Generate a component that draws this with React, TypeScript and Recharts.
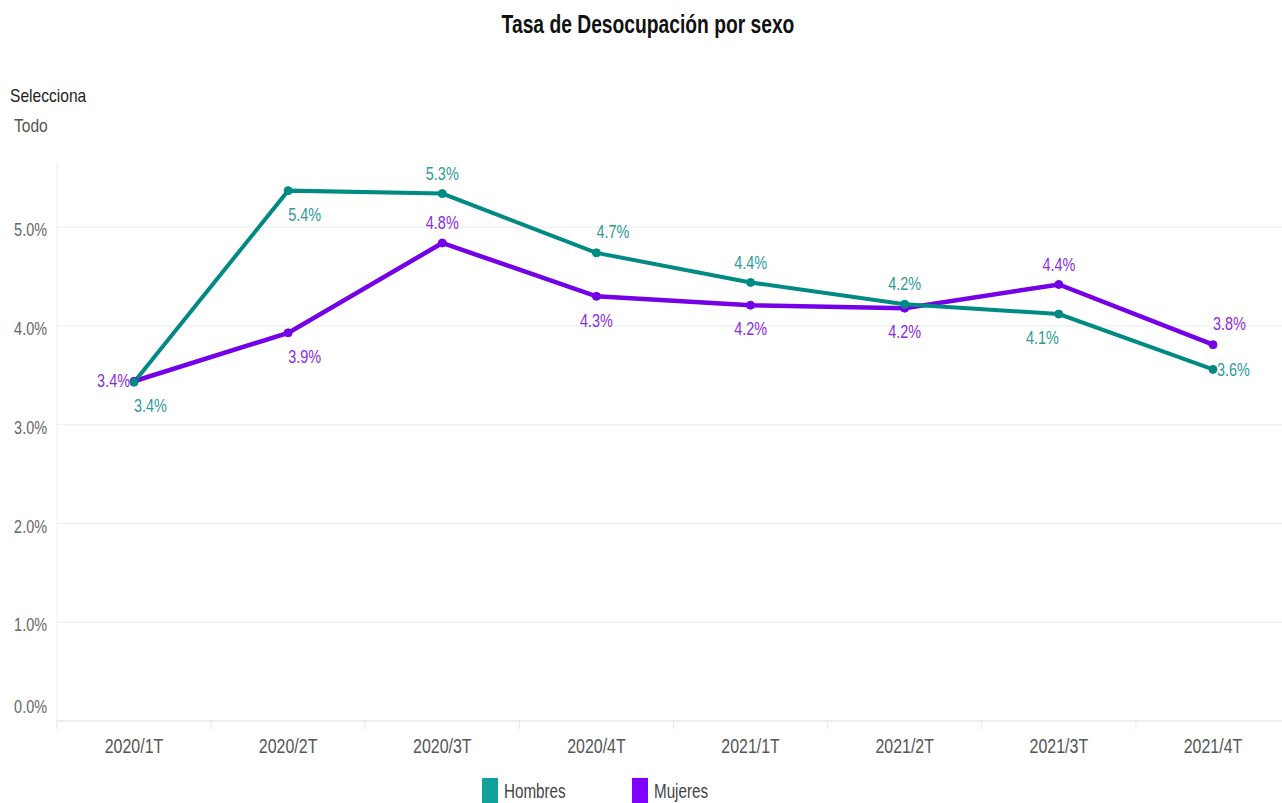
import { LineChart, Line, XAxis, YAxis, CartesianGrid } from "recharts";

const quarters = ["2020/1T", "2020/2T", "2020/3T", "2020/4T", "2021/1T", "2021/2T", "2021/3T", "2021/4T"];
const hombres = [3.43, 5.37, 5.34, 4.74, 4.44, 4.22, 4.12, 3.56];
const mujeres = [3.44, 3.93, 4.84, 4.30, 4.21, 4.18, 4.42, 3.81];
const yTicks = [0, 1, 2, 3, 4, 5];
const seriesNames = ["Hombres", "Mujeres"];

// where each value label sits relative to its point (label layout only)
const hombresPos = ["below-start", "below-start", "above", "above-start", "above", "above", "below-end", "right"];
const mujeresPos = ["left", "below-start", "above", "below", "below", "below", "above", "above-start"];

const TEAL = "#008a84";
const TEAL_TEXT = "#2b9b97";
const PURPLE = "#7400e8";
const PURPLE_TEXT = "#8a2be2";
const FONT = "'Liberation Sans', Arial, sans-serif";
const SQUEEZE = 0.76;

const W = 1290;
const H = 770;
const LEFT = 57;
const TOP = 162;
const BOTTOM = 721;
const PAD = 77;
const Y_MAX = 5.66;
const STEP = (W - LEFT - 2 * PAD) / (quarters.length - 1);

const data = quarters.map((q, i) => ({ q, hombres: hombres[i], mujeres: mujeres[i] }));

function makeLabel(pos: string[], color: string) {
  return (props: any) => {
    const { x, y, value, index } = props;
    const p = pos[index];
    let tx = x;
    let ty = y;
    let anchor = "middle";
    if (p === "above") ty = y - 20;
    else if (p === "above-start") { ty = y - 21; anchor = "start"; }
    else if (p === "below") ty = y + 24;
    else if (p === "below-start") { ty = y + 24; anchor = "start"; }
    else if (p === "below-end") { ty = y + 24; anchor = "end"; }
    else if (p === "left") { tx = x - 4; anchor = "end"; }
    else if (p === "right") { tx = x + 4; anchor = "start"; }
    return (
      <text
        key={`l-${index}`}
        transform={`translate(${tx},${ty}) scale(${SQUEEZE},1)`}
        x={0}
        y={0}
        textAnchor={anchor}
        dominantBaseline="central"
        fontFamily={FONT}
        fontSize={19}
        fill={color}
      >
        {Number(value).toFixed(1)}%
      </text>
    );
  };
}

function YTick(props: any) {
  const { x, y, payload } = props;
  const shift = payload.value === 0 ? -14 : 3;
  return (
    <text
      transform={`translate(${x - 2},${y + shift}) scale(${SQUEEZE},1)`}
      textAnchor="end"
      dominantBaseline="central"
      fontFamily={FONT}
      fontSize={19}
      fill="#666"
    >
      {payload.value.toFixed(1)}%
    </text>
  );
}

function XTick(props: any) {
  const { x, payload } = props;
  return (
    <g>
      <line x1={x - STEP / 2} x2={x - STEP / 2} y1={BOTTOM} y2={BOTTOM + 8} stroke="#e6e6e6" />
      <text
        transform={`translate(${x},${BOTTOM + 25}) scale(${SQUEEZE},1)`}
        textAnchor="middle"
        dominantBaseline="central"
        fontFamily={FONT}
        fontSize={21}
        fill="#555"
      >
        {payload.value}
      </text>
    </g>
  );
}

// grid rows only at the labelled ticks
const gridRows = ({ offset }: any) =>
  yTicks.map((t) => offset.top + offset.height * (1 - t / Y_MAX));

const squeezed = (origin: string, k = SQUEEZE) => ({
  display: "inline-block",
  transform: `scaleX(${k})`,
  transformOrigin: origin,
  whiteSpace: "nowrap" as const,
});

export default function App() {
  return (
    <div style={{ position: "absolute", left: 0, top: 0, width: 1282, height: 803, overflow: "hidden", background: "#fff", fontFamily: FONT }}>
      <div style={{ position: "absolute", left: 648, top: 10, transform: "translateX(-50%)" }}>
        <span style={{ ...squeezed("center", 0.77), fontSize: 25, fontWeight: "bold", color: "#111" }}>
          Tasa de Desocupación por sexo
        </span>
      </div>
      <div style={{ position: "absolute", left: 10, top: 85 }}>
        <span style={{ ...squeezed("left", 0.82), fontSize: 19, color: "#222" }}>Selecciona</span>
      </div>
      <div style={{ position: "absolute", left: 14, top: 115 }}>
        <span style={{ ...squeezed("left", 0.82), fontSize: 19, color: "#555" }}>Todo</span>
      </div>

      <div style={{ position: "absolute", left: 0, top: 0 }}>
        <LineChart width={W} height={H} data={data} margin={{ top: TOP, right: 0, bottom: H - BOTTOM - 40, left: 0 }}>
          <CartesianGrid vertical={false} horizontalCoordinatesGenerator={gridRows} stroke="#ebebeb" />
          <XAxis
            dataKey="q"
            padding={{ left: PAD, right: PAD }}
            height={40}
            axisLine={{ stroke: "#e6e6e6" }}
            tickLine={false}
            tick={<XTick />}
            interval={0}
          />
          <YAxis
            width={LEFT}
            domain={[0, Y_MAX]}
            ticks={yTicks}
            axisLine={{ stroke: "#ececec" }}
            tickLine={false}
            tick={<YTick />}
          />
          <Line
            dataKey="mujeres"
            name={seriesNames[1]}
            stroke={PURPLE}
            strokeWidth={4.5}
            dot={{ r: 4, fill: PURPLE, stroke: PURPLE, strokeWidth: 1 }}
            label={makeLabel(mujeresPos, PURPLE_TEXT)}
            isAnimationActive={false}
          />
          <Line
            dataKey="hombres"
            name={seriesNames[0]}
            stroke={TEAL}
            strokeWidth={4}
            dot={{ r: 4, fill: TEAL, stroke: TEAL, strokeWidth: 1 }}
            label={makeLabel(hombresPos, TEAL_TEXT)}
            isAnimationActive={false}
          />
        </LineChart>
      </div>

      <div style={{ position: "absolute", left: 482, top: 778, display: "flex", alignItems: "flex-start" }}>
        {seriesNames.map((name, i) => (
          <div key={name} style={{ display: "flex", alignItems: "flex-start", width: 150 }}>
            <div style={{ width: 16, height: 26, background: i === 0 ? "#10a19b" : "#8000ff" }} />
            <span style={{ ...squeezed("left"), fontSize: 20, color: "#444", marginLeft: 6, marginTop: 2 }}>{name}</span>
          </div>
        ))}
      </div>
    </div>
  );
}
